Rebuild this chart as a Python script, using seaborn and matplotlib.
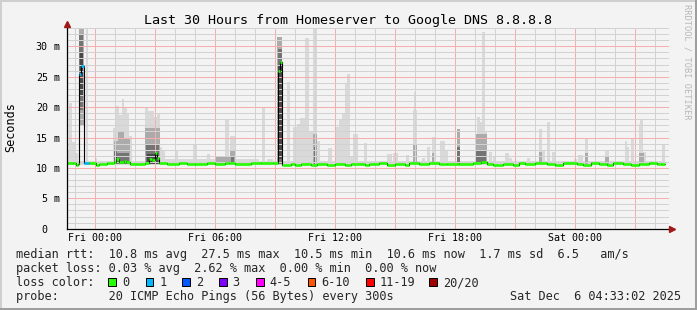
import matplotlib
matplotlib.use("Agg")
import matplotlib.pyplot as plt
import matplotlib.transforms as mtransforms
from matplotlib.patches import Rectangle
from matplotlib.ticker import MultipleLocator, FuncFormatter
import seaborn as sns

# ---------------- data ----------------
# time axis: hours relative to Fri 00:00
title = "Last 30 Hours from Homeserver to Google DNS 8.8.8.8"
x_range = (-1.4, 28.715)
y_range = (0, 33.06)
x_tick_hours = [0, 6, 12, 18, 24]
x_tick_names = ["Fri 00:00", "Fri 06:00", "Fri 12:00", "Fri 18:00", "Sat 00:00"]
y_tick_values = [0, 5, 10, 15, 20, 25, 30]
y_tick_names = ["0", "5", "10", "15", "20", "25", "30"]

# median rtt (ms) as a step series, loss count per step
med_t = [-1.40, -1.10, -0.92, -0.82, -0.80, -0.68, -0.55, -0.27, 0.05, 0.20,
         0.60, 0.95, 1.07, 1.22, 1.45, 1.55, 1.75, 2.10, 2.50, 2.70,
         2.85, 3.00, 3.10, 3.20, 3.60, 4.20, 4.60, 5.00, 5.60, 6.00,
         6.50, 6.70, 7.00, 7.80, 8.30, 8.90, 9.14, 9.26, 9.37, 9.80,
         10.00, 10.30, 10.80, 11.10, 11.60, 12.00, 12.50, 12.80, 13.50, 13.70,
         14.20, 14.60, 15.00, 15.50, 15.70, 16.20, 16.70, 17.20, 17.60, 18.20,
         18.90, 19.30, 19.60, 19.90, 20.40, 20.90, 21.20, 21.50, 22.00, 22.60,
         23.00, 23.40, 24.10, 24.40, 24.80, 25.20, 25.60, 25.90, 26.40, 26.80,
         27.20, 27.70, 28.10, 28.30]
med_v = [10.75, 10.80, 10.55, 10.70, 25.40, 26.80, 10.75, 10.80, 10.55, 10.70,
         10.75, 11.00, 11.50, 11.00, 11.10, 10.90, 10.70, 10.60, 10.80, 11.50,
         11.30, 12.50, 11.60, 10.80, 10.70, 10.75, 10.65, 10.70, 10.75, 10.70,
         10.85, 10.75, 10.70, 10.75, 10.80, 10.75, 26.00, 27.50, 10.50, 10.65,
         10.50, 10.65, 10.55, 10.65, 10.50, 10.60, 10.55, 10.70, 10.55, 10.70,
         10.75, 10.55, 10.70, 10.55, 10.75, 10.70, 10.75, 10.70, 10.65, 10.70,
         10.75, 11.00, 10.70, 10.55, 10.70, 10.55, 10.75, 10.60, 10.75, 10.70,
         10.55, 10.75, 10.70, 10.55, 10.75, 10.70, 10.55, 10.75, 10.70, 10.55,
         10.60, 10.75, 10.70, 10.60]
med_loss = [0, 0, 0, 0, 1, 1, 1, 0, 0, 0] + [0] * 74
data_end = 28.50

# smoke bands: time span (h), ping range (ms), density level (0 sparse .. 3 dense)
band_start = [-1.40, -1.40, -1.30, -1.13, -0.97, -0.80, -0.78, -0.75, -0.42, 0.00,
              0.93, 1.05, 1.20, 1.35, 1.45, 1.60, 1.72, 0.97, 1.15, 1.45,
              0.97, 1.10, 1.00, 2.50, 2.65, 2.95, 3.10, 3.25, 2.52, 2.55,
              2.60, 3.35, 3.52, 4.00, 4.93, 5.60, 6.00, 6.52, 6.77, 6.77,
              6.80, 7.00, 8.35, 8.60, 9.12, 9.14, 9.16, 9.60, 9.93, 10.13,
              10.27, 10.50, 10.70, 10.92, 10.92, 10.95, 11.10, 11.68, 12.00, 12.20,
              12.35, 12.50, 12.60, 12.75, 12.93, 13.45, 14.60, 14.93, 15.55, 15.93,
              15.98, 15.93, 16.35, 16.60, 16.85, 16.87, 17.27, 17.52, 18.10, 18.12,
              19.00, 19.12, 19.25, 19.38, 19.50, 19.00, 19.05, 19.70, 19.90, 20.50,
              20.70, 21.60, 22.23, 22.23, 22.38, 22.60, 22.85, 23.95, 24.18, 24.50,
              24.50, 25.50, 25.50, 26.50, 26.60, 26.80, 27.20, 27.27, 27.20, 27.43,
              28.35]
band_end = [28.50, -1.30, -1.13, -0.97, -0.82, -0.55, -0.57, -0.60, -0.32, 0.12,
            1.05, 1.20, 1.35, 1.45, 1.60, 1.72, 1.85, 1.15, 1.45, 1.75,
            1.10, 1.70, 1.12, 2.65, 2.95, 3.10, 3.25, 3.35, 3.25, 3.20,
            3.15, 3.52, 6.30, 4.18, 5.10, 5.77, 6.80, 6.73, 7.00, 7.00,
            6.95, 8.20, 8.52, 8.90, 9.38, 9.36, 9.34, 9.77, 10.13, 10.27,
            10.50, 10.70, 10.92, 11.10, 11.10, 11.08, 11.25, 11.85, 12.20, 12.35,
            12.50, 12.60, 12.75, 12.93, 13.18, 13.60, 14.85, 15.18, 15.70, 16.10,
            16.04, 16.10, 16.50, 16.77, 17.00, 16.98, 17.52, 17.65, 18.27, 18.25,
            19.12, 19.25, 19.38, 19.50, 19.62, 19.60, 19.55, 19.85, 20.05, 20.70,
            20.85, 21.77, 22.38, 22.38, 22.52, 22.77, 23.02, 24.10, 24.40, 24.68,
            24.68, 25.70, 25.70, 26.60, 26.72, 26.97, 27.27, 27.43, 27.45, 27.55,
            28.50]
band_low = [10.45, 10.6, 10.6, 10.6, 10.6, 17.0, 19.5, 22.0, 10.6, 10.6,
            10.6, 10.6, 10.6, 10.6, 10.6, 10.6, 10.6, 10.6, 10.6, 10.6,
            10.6, 10.6, 10.6, 10.6, 10.6, 10.6, 10.6, 10.6, 10.6, 10.6,
            10.6, 10.6, 10.6, 10.6, 10.6, 10.6, 10.6, 10.6, 10.6, 10.6,
            10.6, 10.6, 10.6, 10.6, 10.6, 10.6, 11.5, 10.6, 10.6, 10.6,
            10.6, 10.6, 10.6, 10.6, 10.6, 10.6, 10.6, 10.6, 10.6, 10.6,
            10.6, 10.6, 10.6, 10.6, 10.6, 10.6, 10.6, 10.6, 10.6, 10.6,
            10.6, 10.6, 10.6, 10.6, 10.6, 10.6, 10.6, 10.6, 10.6, 10.6,
            10.6, 10.6, 10.6, 10.6, 10.6, 10.6, 10.6, 10.6, 10.6, 10.6,
            10.6, 10.6, 10.6, 10.6, 10.6, 10.6, 10.6, 10.6, 10.6, 10.6,
            10.6, 10.6, 10.6, 10.6, 10.6, 10.6, 10.6, 10.6, 10.6, 10.6,
            10.6]
band_high = [11.15, 12.7, 20.7, 14.3, 12.5, 34.0, 32.0, 29.0, 34.0, 11.6,
             16.5, 20.1, 18.7, 21.3, 20.0, 19.0, 15.3, 14.5, 16.0, 15.0,
             13.0, 12.5, 11.8, 19.9, 19.4, 18.4, 18.8, 13.5, 16.5, 14.0,
             12.3, 12.9, 11.4, 12.9, 14.0, 12.3, 11.9, 18.0, 15.2, 13.0,
             11.8, 11.4, 19.8, 11.5, 31.6, 29.5, 27.0, 24.2, 16.8, 17.3,
             18.2, 31.4, 16.0, 34.0, 15.6, 13.5, 14.5, 13.2, 16.8, 17.9,
             19.0, 23.9, 25.5, 12.0, 15.5, 14.1, 12.3, 12.5, 12.2, 19.5,
             22.5, 14.0, 11.6, 13.5, 15.1, 12.5, 14.4, 12.7, 16.4, 13.5,
             14.4, 18.4, 17.6, 32.3, 16.0, 15.5, 13.0, 12.6, 12.0, 12.5,
             11.6, 11.6, 16.4, 12.6, 12.9, 17.5, 12.6, 11.5, 12.1, 15.0,
             12.5, 13.0, 11.8, 14.4, 13.5, 14.7, 17.2, 17.9, 12.5, 12.6,
             14.0]
band_level = [0, 0, 0, 0, 0, 1, 2, 3, 0, 0,
              0, 0, 0, 0, 0, 0, 0, 1, 1, 1,
              2, 2, 3, 0, 0, 0, 0, 0, 1, 2,
              3, 0, 0, 0, 0, 0, 1, 0, 0, 1,
              2, 0, 0, 0, 1, 2, 3, 0, 0, 0,
              0, 0, 0, 0, 1, 2, 0, 0, 0, 0,
              0, 0, 0, 0, 0, 0, 0, 0, 0, 0,
              0, 1, 0, 0, 0, 1, 0, 0, 1, 2,
              0, 0, 0, 0, 0, 1, 2, 0, 0, 0,
              0, 0, 0, 1, 0, 0, 0, 0, 0, 0,
              1, 0, 1, 0, 0, 0, 0, 0, 1, 0,
              0]

loss_names = ["0", "1", "2", "3", "4-5", "6-10", "11-19", "20/20"]
loss_colors = ["#26ff00", "#00b8ff", "#0059ff", "#7e00ff", "#ff00ff",
               "#ff5500", "#ff0000", "#a00000"]

row_rtt = "median rtt:  10.8 ms avg  27.5 ms max  10.5 ms min  10.6 ms now  1.7 ms sd  6.5   am/s"
row_loss = "packet loss: 0.03 % avg  2.62 % max  0.00 % min  0.00 % now"
row_color = "loss color:"
row_probe = "probe:       20 ICMP Echo Pings (56 Bytes) every 300s"
stamp = "Sat Dec  6 04:33:02 2025"
credit = "RRDTOOL / TOBI OETIKER"

# ---------------- style / layout ----------------
sns.set_style("white")
plt.rcParams["font.family"] = ["DejaVu Sans Mono", "DejaVu Sans"]
BG = "#f3f3f3"
level_colors = {0: "#d9d9d9", 1: "#ababab", 2: "#747474", 3: "#484848"}
W, H = 697, 310


def fx(px):
    return px / W


def fy(py):
    return 1 - py / H


fig = plt.figure(figsize=(6.97, 3.10), dpi=100, facecolor=BG)
ax = fig.add_axes([fx(66.7), fy(228.7), fx(669) - fx(66.7), fy(27.7) - fy(228.7)])
ax.set_facecolor(BG)

# smoke
for lvl in sorted(level_colors):
    idx = [i for i, l in enumerate(band_level) if l == lvl]
    ax.bar([band_start[i] for i in idx],
           [band_high[i] - band_low[i] for i in idx],
           width=[band_end[i] - band_start[i] for i in idx],
           bottom=[band_low[i] for i in idx],
           align="edge", color=level_colors[lvl], linewidth=0, zorder=1)

# median line (black steps + loss-coloured segments)
sns.lineplot(x=med_t + [data_end], y=med_v + [med_v[-1]], drawstyle="steps-post",
             color="black", linewidth=0.8, ax=ax, zorder=3, sort=False,
             estimator=None)
seg_end = med_t[1:] + [data_end]
ax.hlines(med_v, med_t, seg_end, colors=[loss_colors[l] for l in med_loss],
          linewidth=1.9, zorder=4)

ax.set_xlim(*x_range)
ax.set_ylim(*y_range)
ax.set_xlabel("")
ax.set_ylabel("")

# grid (dotted)
ax.xaxis.set_major_locator(MultipleLocator(3))
ax.xaxis.set_minor_locator(MultipleLocator(1))
ax.yaxis.set_major_locator(MultipleLocator(5))
ax.yaxis.set_minor_locator(MultipleLocator(1))
ax.set_axisbelow(False)
ax.grid(which="minor", color="#d2d2d2", linestyle=(0, (1, 1)), linewidth=0.72,
        antialiased=False)
ax.grid(which="major", color="#f4aeae", linestyle=(0, (1, 1)), linewidth=0.72,
        antialiased=False)

name_of_hour = dict(zip(x_tick_hours, x_tick_names))
ax.xaxis.set_major_formatter(FuncFormatter(
    lambda v, p: name_of_hour.get(int(round(v)), "") if abs(v - round(v)) < 1e-6 else ""))
name_of_val = dict(zip(y_tick_values, y_tick_names))
ax.yaxis.set_major_formatter(FuncFormatter(
    lambda v, p: name_of_val.get(int(round(v)), "")))

ax.tick_params(axis="both", which="major", length=1.6, width=0.72,
               color="#ee9090", labelsize=7.2, labelcolor="black")
ax.tick_params(axis="both", which="minor", length=1.6, width=0.72, color="#c4c4c4")
ax.tick_params(axis="x", which="major", pad=1.6)
ax.tick_params(axis="y", which="major", pad=12.0)

for side in ("top", "right"):
    ax.spines[side].set_visible(False)
for side in ("left", "bottom"):
    ax.spines[side].set_color("black")
    ax.spines[side].set_linewidth(0.9)
    ax.spines[side].set_zorder(5)

# unit suffix on y labels
ytrans = mtransforms.blended_transform_factory(fig.transFigure, ax.transData)
for v in y_tick_values:
    if v != 0:
        ax.text(fx(54), v, "m", transform=ytrans, ha="left", va="center_baseline",
                fontsize=7.2, color="black")

# arrow heads
ax.plot([1 + 2.5 / 602.3], [0], marker=">", markersize=4.2, color="#a01818",
        transform=ax.transAxes, clip_on=False, zorder=6)
ax.plot([0], [1 + 4.0 / 201.0], marker="^", markersize=4.2, color="#a01818",
        transform=ax.transAxes, clip_on=False, zorder=6)

# texts
fig.text(0.5, fy(24), title, ha="center", va="baseline", fontsize=9.6, color="black")
fig.text(fx(10.7), fy(127.5), "Seconds", rotation=90, ha="center", va="center",
         fontsize=8.5, color="black")
fig.text(fx(687), fy(4), credit, rotation=270, ha="center", va="top",
         fontsize=6.2, color="#b8b8b8")

fig.text(fx(16), fy(258), row_rtt, ha="left", va="baseline", fontsize=8.55)
fig.text(fx(16), fy(272), row_loss, ha="left", va="baseline", fontsize=8.55)
fig.text(fx(16), fy(286), row_color, ha="left", va="baseline", fontsize=8.55)
fig.text(fx(16), fy(300), row_probe, ha="left", va="baseline", fontsize=8.55)
fig.text(fx(681), fy(300), stamp, ha="right", va="baseline", fontsize=8.55)

box_x = [108.3, 145.7, 182.3, 219.0, 256.0, 307.7, 366.0, 429.3]
for bx, name, col in zip(box_x, loss_names, loss_colors):
    fig.add_artist(Rectangle((fx(bx), fy(285.5)), 7.7 / W, 8.0 / H,
                             transform=fig.transFigure, facecolor=col,
                             edgecolor="black", linewidth=0.72))
    fig.text(fx(bx + 13.6), fy(286), name, ha="left", va="baseline", fontsize=8.55)

# 3-D frame
fig.add_artist(Rectangle((0, 1 - 2 / H), 1, 2 / H, transform=fig.transFigure,
                         facecolor="#cfcfcf", linewidth=0))
fig.add_artist(Rectangle((0, 0), 2 / W, 1, transform=fig.transFigure,
                         facecolor="#cfcfcf", linewidth=0))
fig.add_artist(Rectangle((0, 0), 1, 2 / H, transform=fig.transFigure,
                         facecolor="#9e9e9e", linewidth=0))
fig.add_artist(Rectangle((1 - 2 / W, 0), 2 / W, 1, transform=fig.transFigure,
                         facecolor="#9e9e9e", linewidth=0))

fig.savefig("out.png", dpi=100, facecolor=BG)
